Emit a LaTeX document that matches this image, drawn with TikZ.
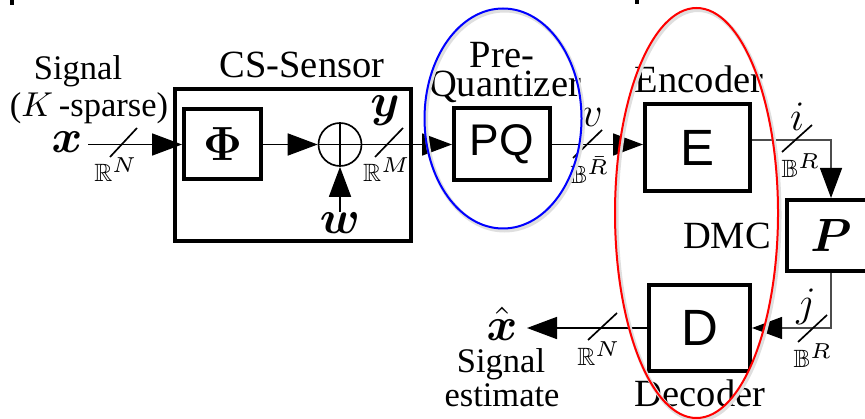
\RequirePackage{fix-cm}
\documentclass[tikz,border=0pt]{standalone}
\usepackage{amsmath,amssymb}
\usepackage[no-math]{fontspec}
\setmainfont{Liberation Serif}
\setsansfont{Liberation Sans}
\usetikzlibrary{arrows.meta,calc}
\newcommand\dimlab[2]{$\mathbb{#1}$\raisebox{2.7pt}{\fontsize{6.5}{7}\selectfont$#2$}}
\tikzset{
  box/.style={draw, line width=1.2pt, inner sep=0pt, rectangle},
  conn/.style={line width=0.5pt, -{Triangle[length=9pt,width=6.6pt]}},
  conntwo/.style={line width=0.4pt, draw=black!70, -{Triangle[length=9pt,width=6.6pt,color=black]}},
  slash/.style={line width=0.5pt},
  lab/.style={font=\fontsize{11.55}{13}\selectfont, inner sep=0pt, anchor=base},
  sig/.style={font=\fontsize{10.35}{12}\selectfont, inner sep=0pt, anchor=base},
  bmath/.style={font=\fontsize{14}{16}\selectfont, inner sep=0pt},
  imath/.style={font=\fontsize{12.6}{14}\selectfont, inner sep=0pt},
  dim/.style={font=\fontsize{7.5}{9}\selectfont, inner sep=0pt},
  sfbig/.style={font=\sffamily\fontsize{15.3}{17}\selectfont},
}
\begin{document}
\begin{tikzpicture}[x=0.3pt,y=-0.3pt]
\useasboundingbox (0,0) rectangle (865,419);
\clip (0,0) rectangle (865,419);
\fill (10,0) rectangle (14,5);
\fill (635,0) rectangle (639,4);

% blocks
\node[box, minimum width=70.8pt, minimum height=45.6pt] (cs) at (293,165) {};
\node[box, minimum width=23.1pt, minimum height=21pt, font=\fontsize{14.4}{16}\selectfont] (phi) at (222.5,144.5) {$\mathbf{\Phi}$};
\node[circle, draw, line width=0.5pt, minimum size=12.9pt, inner sep=0pt] (sum) at (340,144.5) {};
\draw[line width=0.5pt] (sum.north) -- (sum.south) (sum.west) -- (sum.east);
\node[box, minimum width=28.8pt, minimum height=21.6pt, font=\sffamily\fontsize{13.3}{15}\selectfont] (pq) at (502,144.5) {PQ};
\node[box, minimum width=31.5pt, minimum height=26.1pt, sfbig] (enc) at (697.5,147.5) {E};
\node[box, minimum width=26.4pt, minimum height=21.3pt, bmath] (chan) at (831,235.5) {$\boldsymbol{P}$};
\node[box, minimum width=30.3pt, minimum height=25.8pt, sfbig] (dec) at (699.5,328) {D};

% text labels
\node[sig] (sigin) at (78,80) {Signal};
\node[sig] (sparse) at (89,117) {($K$\,-sparse)};
\node[lab] (cslab) at (302,78) {CS-Sensor};
\node[lab] (pre) at (502,68) {Pre-};
\node[lab] (quant) at (505,97) {Quantizer};
\node[lab] (enclab) at (699,93) {Encoder};
\node[lab] (dmc) at (727,248) {DMC};
\node[lab] (declab) at (700,406) {Decoder};
\node[sig] (sigout) at (501,372) {Signal};
\node[sig] (est) at (502,406) {estimate};

% symbols
\node[bmath] (xin) at (67,142) {$\boldsymbol{x}$};
\node[bmath] (ylab) at (385,111) {$\boldsymbol{y}$};
\node[bmath, anchor=north] (w) at (340,212) {$\boldsymbol{w}$};
\node[imath] (vlab) at (592,117) {$v$};
\node[imath] (ilab) at (797,117) {$i$};
\node[imath] (jlab) at (806,307) {$j$};
\node[bmath] (xhat) at (502,324) {$\hat{\boldsymbol{x}}$};

% dimensions
\node[dim] (d1) at (115,170) {\dimlab{R}{N}};
\node[dim] (d2) at (386,170) {\dimlab{R}{M}};
\node[dim] (d3) at (589,170) {\dimlab{B}{\bar{R}}};
\node[dim] (d4) at (800,166) {\dimlab{B}{R}};
\node[dim] (d5) at (812,356) {\dimlab{B}{R}};
\node[dim] (d6) at (598,354) {\dimlab{R}{N}};

% connectors
\coordinate (xstart) at (88,144.5);
\coordinate (xend) at (527,328);
\coordinate (eout) at ($(enc.east)+(0,-7.5)$);
\draw[conn] (xstart) -- (phi.west);
\draw[conn] (phi.east) -- (sum.west);
\draw[conn] (w.north) -- (sum.south);
\draw[conn] (sum.east) -- (pq.west);
\draw[conn] (pq.east) -- (pq.east -| enc.west);
\draw[conntwo] (eout) -| (chan.north);
\draw[conntwo] (chan.south) |- (dec.east);
\draw[conn] (dec.west) -- (xend);

% slashes
\draw[slash] (110,157) -- (137,128);
\draw[slash] (375,157) -- (403,128);
\draw[slash] (573,158) -- (602,130);
\draw[slash] (782,152) -- (812,125);
\draw[slash] (798,342) -- (827,315);
\draw[slash] (588,340) -- (617,313);

% highlight ellipses
\draw[gray!25, line width=1.2pt] (504.5,120.5) ellipse [x radius=78.5, y radius=110];
\draw[blue, line width=0.6pt] (503,118.5) ellipse [x radius=78.5, y radius=110];
\draw[gray!25, line width=1.2pt] (698,215) ellipse [x radius=81.5, y radius=205];
\draw[red, line width=0.6pt] (696.5,213) ellipse [x radius=81.5, y radius=205];
\end{tikzpicture}
\end{document}
